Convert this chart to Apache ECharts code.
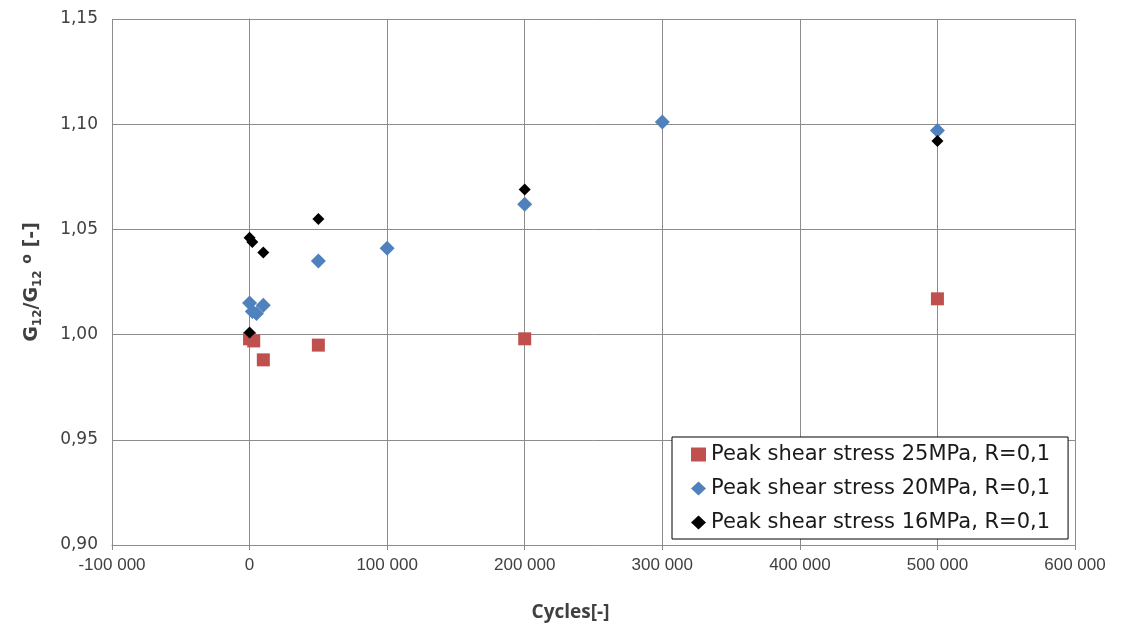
<!DOCTYPE html>
<html>
<head>
<meta charset="utf-8">
<script src="https://cdn.jsdelivr.net/npm/echarts@6/dist/echarts.min.js"></script>
<style>
	html, body { margin: 0; padding: 0; background: #fff; }
	#container { width: 1126px; height: 628px; }
</style>
</head>
<body>
<div id="container"></div>
<script>
// series names
var names = ['Peak shear stress 25MPa, R=0,1', 'Peak shear stress 20MPa, R=0,1', 'Peak shear stress 16MPa, R=0,1'];
// 25MPa
var cycles25 = [0, 3000, 10000, 50000, 200000, 500000];
var ratio25 = [0.998, 0.997, 0.988, 0.995, 0.998, 1.017];
// 20MPa
var cycles20 = [0, 2000, 5000, 10000, 50000, 100000, 200000, 300000, 500000];
var ratio20 = [1.015, 1.011, 1.010, 1.014, 1.035, 1.041, 1.062, 1.101, 1.097];
// 16MPa
var cycles16 = [0, 0, 2000, 10000, 50000, 200000, 500000];
var ratio16 = [1.001, 1.046, 1.044, 1.039, 1.055, 1.069, 1.092];

function pairs(xs, ys) {
	var out = [];
	for (var i = 0; i < xs.length; i++) {
		out.push([xs[i], ys[i]]);
	}
	return out;
}

function fmtX(v) {
	var s = String(Math.abs(v)).replace(/\B(?=(\d{3})+(?!\d))/g, ' ');
	return (v < 0 ? '-' : '') + s;
}

var dom = document.getElementById('container');
var myChart = echarts.init(dom);
var option = {
	animation: false,
	grid: { left: 112, right: 51, top: 19, bottom: 83 },
	xAxis: {
		type: 'value',
		min: -100000,
		max: 600000,
		interval: 100000,
		name: 'Cycles[-]',
		nameLocation: 'middle',
		nameGap: 58,
		nameTextStyle: { fontFamily: 'Open Sans', fontWeight: 'bold', fontSize: 19, color: '#404040', padding: [0, 46, 0, 0] },
		axisLine: { lineStyle: { color: '#8c8c8c' } },
		axisTick: { show: true, length: 5, lineStyle: { color: '#8c8c8c' } },
		axisLabel: { formatter: fmtX, fontFamily: 'Liberation Sans', fontSize: 17, color: '#404040', margin: 12 },
		splitLine: { show: true, lineStyle: { color: '#8c8c8c', width: 1 } }
	},
	yAxis: {
		type: 'value',
		min: 0.90,
		max: 1.15,
		interval: 0.05,
		name: '{b|G}{s|12}{b|/G}{s|12}{b| }{p|o}{b| [-]}',
		nameLocation: 'middle',
		nameGap: 68,
		nameRotate: 90,
		nameTextStyle: {
			rich: {
				b: { fontFamily: 'DejaVu Sans', fontWeight: 'bold', fontSize: 19, color: '#404040', verticalAlign: 'middle' },
				s: { fontFamily: 'DejaVu Sans', fontWeight: 'bold', fontSize: 12, color: '#404040', verticalAlign: 'bottom', padding: [10, 0, 0, 0] },
				p: { fontFamily: 'DejaVu Sans', fontWeight: 'bold', fontSize: 14, color: '#404040', verticalAlign: 'top', padding: [0, 0, 10, 0] }
			}
		},
		axisLine: { show: true, lineStyle: { color: '#8c8c8c' } },
		axisTick: { show: true, length: 5, lineStyle: { color: '#8c8c8c' } },
		axisLabel: {
			formatter: function (v) { return v.toFixed(2).replace('.', ','); },
			fontFamily: 'DejaVu Sans', fontSize: 17, color: '#404040', margin: 14
		},
		splitLine: { show: true, lineStyle: { color: '#8c8c8c', width: 1 } }
	},
	legend: {
		orient: 'vertical',
		left: 672,
		top: 437,
		padding: [7, 18, 6, 19],
		itemGap: 13,
		itemWidth: 15,
		itemHeight: 14,
		backgroundColor: '#fff',
		borderColor: '#000',
		borderWidth: 1,
		borderRadius: 0,
		textStyle: { fontFamily: 'DejaVu Sans', fontSize: 21, lineHeight: 20, color: '#1a1a1a' },
		data: [
			{ name: names[0], icon: 'rect' },
			{ name: names[1], icon: 'diamond' },
			{ name: names[2], icon: 'diamond' }
		]
	},
	series: [
		{
			name: names[0],
			type: 'scatter',
			symbol: 'rect',
			symbolSize: 13,
			itemStyle: { color: '#C0504D', opacity: 1 },
			data: pairs(cycles25, ratio25)
		},
		{
			name: names[1],
			type: 'scatter',
			symbol: 'diamond',
			symbolSize: 15,
			itemStyle: { color: '#4F81BD', opacity: 1 },
			data: pairs(cycles20, ratio20)
		},
		{
			name: names[2],
			type: 'scatter',
			symbol: 'diamond',
			symbolSize: 12,
			itemStyle: { color: '#000', opacity: 1 },
			data: pairs(cycles16, ratio16)
		}
	]
};
if (option && typeof option === 'object') {
	myChart.setOption(option, true);
}
</script>
</body>
</html>
